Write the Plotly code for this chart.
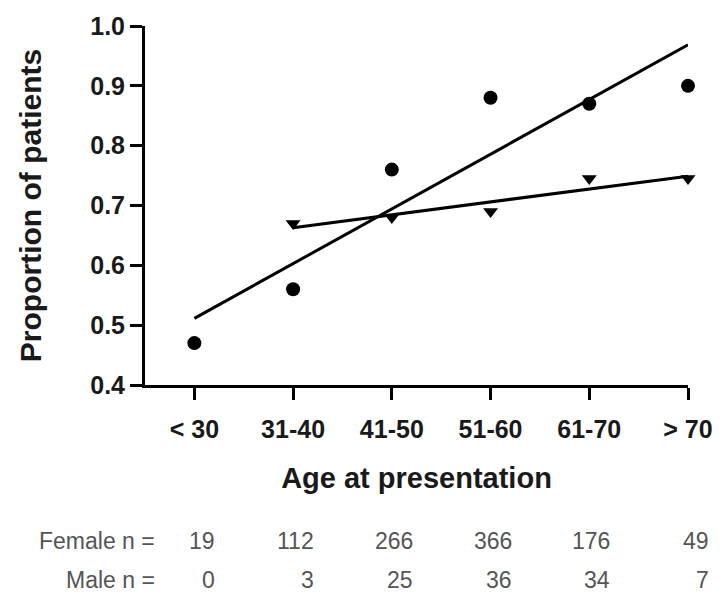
import numpy as np
import plotly.graph_objects as go

categories = ["< 30", "31-40", "41-50", "51-60", "61-70", "> 70"]
female_prop = [0.47, 0.56, 0.76, 0.88, 0.87, 0.90]
male_cats = ["31-40", "41-50", "51-60", "61-70", "> 70"]
male_prop = [0.67, 0.68, 0.69, 0.745, 0.745]
female_n = [19, 112, 266, 366, 176, 49]
male_n = [0, 3, 25, 36, 34, 7]
y_ticks = [0.4, 0.5, 0.6, 0.7, 0.8, 0.9, 1.0]

xf = np.arange(len(categories))
xm = np.array([categories.index(c) for c in male_cats])

# linear regression lines, as in the original figure
bf = np.polyfit(xf, female_prop, 1)
bm = np.polyfit(xm, male_prop, 1)
fx = np.array([xf.min(), xf.max()])
mx = np.array([xm.min(), xm.max()])

fig = go.Figure()
fig.add_trace(go.Scatter(x=fx, y=np.polyval(bf, fx), mode="lines",
                         line=dict(color="black", width=3), showlegend=False,
                         cliponaxis=False))
fig.add_trace(go.Scatter(x=mx, y=np.polyval(bm, mx), mode="lines",
                         line=dict(color="black", width=3), showlegend=False,
                         cliponaxis=False))
fig.add_trace(go.Scatter(x=xf, y=female_prop, mode="markers",
                         marker=dict(symbol="circle", size=14, color="black"),
                         showlegend=False, cliponaxis=False))
fig.add_trace(go.Scatter(x=xm, y=male_prop, mode="markers",
                         marker=dict(symbol="triangle-down", size=13, color="black"),
                         showlegend=False, cliponaxis=False))

font_family = "Liberation Sans, Arial, sans-serif"

fig.update_xaxes(
    range=[-0.5, 5.0], tickmode="array", tickvals=list(xf), ticktext=categories,
    showgrid=False, zeroline=False, showline=True, linecolor="black", linewidth=3,
    ticks="outside", ticklen=12, tickwidth=3, tickcolor="black",
    ticklabelstandoff=8,
    tickfont=dict(family=font_family, size=25, color="#1a1a1a", weight="bold"),
    title=dict(text="<b>Age at presentation</b>", standoff=26,
               font=dict(family=font_family, size=29, color="#1a1a1a")),
)
fig.update_yaxes(
    range=[0.4, 1.0], tickmode="array", tickvals=y_ticks,
    ticktext=[f"{v:.1f}" for v in y_ticks],
    showgrid=False, zeroline=False, showline=True, linecolor="black", linewidth=3,
    ticks="outside", ticklen=12, tickwidth=3, tickcolor="black",
    tickfont=dict(family=font_family, size=25, color="#1a1a1a", weight="bold"),
    title=dict(text="<b>Proportion of patients</b>", standoff=40,
               font=dict(family=font_family, size=30, color="#1a1a1a")),
)

ann_font = dict(family=font_family, size=23, color="#555555")
rows = [("Female n =", female_n, -156), ("Male n =", male_n, -195)]
for label, vals, shift in rows:
    fig.add_annotation(x=-0.5, y=0, xref="x", yref="paper", text=label,
                       showarrow=False, xanchor="right", yanchor="middle",
                       xshift=12, yshift=shift, font=ann_font)
    for i, v in enumerate(vals):
        fig.add_annotation(x=xf[i], y=0, xref="x", yref="paper", text=str(v),
                           showarrow=False, xanchor="right", yanchor="middle",
                           xshift=23, yshift=shift, font=ann_font)

fig.update_layout(
    width=725, height=597,
    margin=dict(l=145, r=28, t=19, b=212),
    paper_bgcolor="white", plot_bgcolor="white",
)

fig.write_html("out.html")
